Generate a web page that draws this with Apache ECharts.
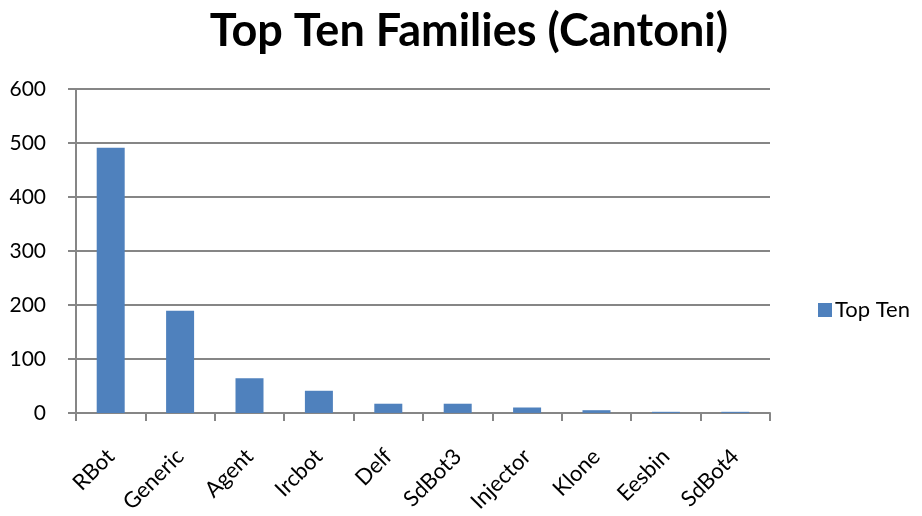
<!DOCTYPE html>
<html><head><meta charset="utf-8">
<script src="https://cdn.jsdelivr.net/npm/echarts@6/dist/echarts.min.js"></script>
<style>html,body{margin:0;padding:0;background:#fff}#c{width:922px;height:516px}</style>
</head><body><div id="c"></div>
<script>
const categories = ['RBot','Generic','Agent','Ircbot','Delf','SdBot3','Injector','Klone','Eesbin','SdBot4'];
const values = [491, 189, 64, 41, 17, 17, 10, 5, 2, 2];
const yTicks = [0, 100, 200, 300, 400, 500, 600];
const seriesName = 'Top Ten';
const chart = echarts.init(document.getElementById('c'));
const font = 'Lato, "Open Sans", sans-serif';
chart.setOption({
  animation: false,
  backgroundColor: '#fff',
  title: { text: 'Top Ten Families (Cantoni)', left: 464, top: 4, textAlign: 'center',
    textStyle: { fontFamily: font, fontWeight: 'bold', fontSize: 45, color: '#000' } },
  legend: { data: [seriesName], left: 813, top: 294, orient: 'vertical', itemWidth: 14, itemHeight: 14, itemGap: 6,
    icon: 'rect', textStyle: { fontFamily: font, fontSize: 22, color: '#000', padding: [0,0,0,-2] } },
  grid: { left: 76, right: 152, top: 89, bottom: 102, containLabel: false },
  xAxis: { type: 'category', data: categories,
    axisLine: { lineStyle: { color: '#868686', width: 2 } },
    axisTick: { show: true, alignWithLabel: false, length: 8, lineStyle: { color: '#868686', width: 2 } },
    axisLabel: { rotate: 45, fontFamily: font, fontSize: 22, color: '#000', margin: 40, interval: 0 } },
  yAxis: { type: 'value', min: yTicks[0], max: yTicks[yTicks.length-1], interval: 100,
    axisLine: { show: true, lineStyle: { color: '#868686', width: 2 } },
    axisTick: { show: true, length: 8, lineStyle: { color: '#868686', width: 2 } },
    splitLine: { lineStyle: { color: '#868686', width: 2 } },
    axisLabel: { fontFamily: font, fontSize: 21, color: '#000', margin: 30 } },
  series: [{ name: seriesName, type: 'bar', data: values, barWidth: 28,
    itemStyle: { color: '#4F81BD' } }]
});
</script></body></html>
